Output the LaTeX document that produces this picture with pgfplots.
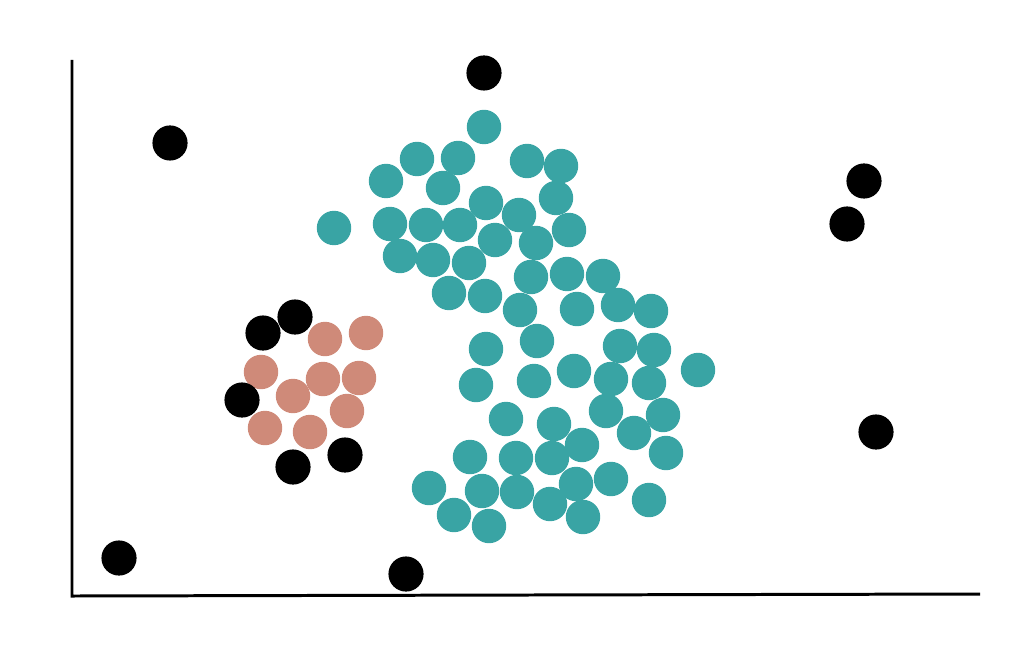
\documentclass[border=0pt]{standalone}
\usepackage{pgfplots}
\pgfplotsset{compat=1.18}
\definecolor{tealc}{HTML}{39A4A4}
\definecolor{salmonc}{HTML}{CF8A79}
\begin{document}
\begin{tikzpicture}
\begin{axis}[
  scale only axis, width=10.34cm, height=6.58cm,
  xmin=0, xmax=1034, ymin=0, ymax=658, y dir=reverse,
  hide axis, clip=false,
]
\path (axis cs:0,0) rectangle (axis cs:1034,658);
\addplot[black, line width=0.85pt, mark=none] coordinates {(72,60) (72,596) (980,594)};
\addplot[only marks, mark=*, mark size=4.7pt, color=tealc] coordinates {
(484,127)
(417,159) (458,158) (527,161) (561,166)
(386,181) (443,188) (556,198)
(486,203) (519,215)
(334,228) (390,224) (426,225) (460,225) (569,230)
(495,240) (536,243)
(400,256) (433,260) (469,263)
(531,277) (567,274) (603,276)
(449,293) (485,296) (520,310) (577,309) (618,305) (651,311)
(486,349) (537,341) (620,346) (654,350)
(476,385) (534,381) (574,371) (611,379) (649,383) (698,370)
(506,419) (554,424) (606,411) (663,415) (634,433) (582,445)
(470,457) (516,458) (552,458) (666,453)
(429,488) (482,491) (517,492) (576,484) (611,479) (649,500)
(454,515) (489,526) (550,504) (583,517)
};
\addplot[only marks, mark=*, mark size=4.7pt, color=salmonc] coordinates {
(325,339) (366,333) (261,372) (323,379) (359,378) (293,396) (347,411) (265,428) (310,432)
};
\addplot[only marks, mark=*, mark size=4.8pt, color=black] coordinates {
(484,73) (170,143) (864,181) (847,224) (295,317) (263,333) (242,400) (345,455) (293,467) (876,432) (119,558) (406,574)
};
\end{axis}
\end{tikzpicture}
\end{document}
